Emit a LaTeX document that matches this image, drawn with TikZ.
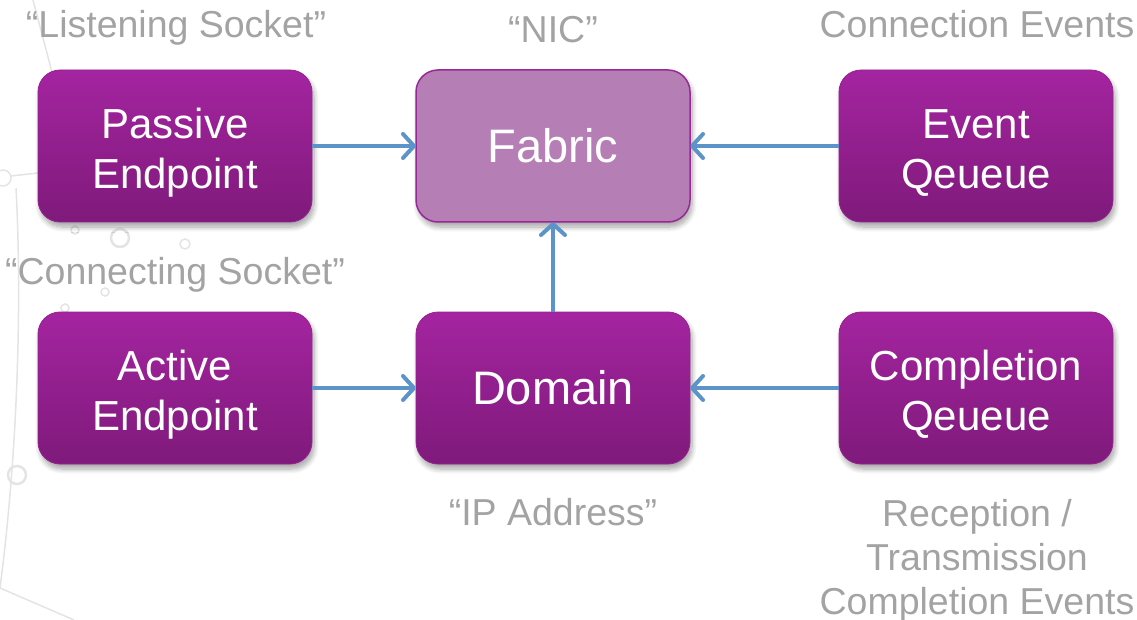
\documentclass[tikz,border=0pt]{standalone}
\usepackage{fontspec}
\setmainfont{Liberation Sans}
\usetikzlibrary{arrows.meta,shadows.blur}

\definecolor{boxtop}{RGB}{164,36,160}
\definecolor{boxbot}{RGB}{127,26,123}
\definecolor{boxedge}{RGB}{150,34,146}
\definecolor{fabfill}{RGB}{181,127,181}
\definecolor{fabedge}{RGB}{152,40,150}
\definecolor{linkblue}{RGB}{92,148,202}
\definecolor{notegray}{RGB}{163,163,163}
\definecolor{decogray}{RGB}{228,228,228}

% taller first line pushes two-line labels slightly down in their boxes
\newcommand{\firstline}{\rule{0pt}{43pt}}

\tikzset{
  objbox/.style={
    rectangle, rounded corners=22pt, minimum width=274pt, minimum height=152pt,
    inner sep=0pt, outer sep=0pt, align=center, text=white,
    top color=boxtop, bottom color=boxbot, draw=boxedge, line width=0.8pt,
    font=\fontsize{42}{50}\selectfont,
    blur shadow={shadow xshift=2pt, shadow yshift=-5pt, shadow blur steps=8,
                 shadow blur radius=5pt, shadow opacity=35}},
  corebox/.style={objbox, fill=fabfill, top color=fabfill, bottom color=fabfill,
    draw=fabedge, line width=1.5pt},
  bigtext/.style={font=\fontsize{47}{54}\selectfont},
  note/.style={text=notegray, font=\fontsize{37.5}{44}\selectfont, inner sep=0pt},
  link/.style={draw=linkblue, line width=4pt,
    -{Straight Barb[length=11pt, width=24pt, line cap=round, line join=round]}},
  deco/.style={draw=decogray, line width=1.5pt}
}

\begin{document}
\begin{tikzpicture}[x=1pt, y=-1pt]
  \useasboundingbox (0,0) rectangle (1137,620);

  % faint background ornament
  \draw[deco] (33,0) -- (58,95);
  \draw[deco] (3,178) circle (8);
  \draw[deco] (11,176) -- (38,173);
  \draw[deco] (16,188) .. controls (22,300) and (18,450) .. (0,588) -- (74,620);
  \foreach \cx/\cy/\r in {75/230/4, 185/244/5, 105/292/4, 65/308/4}
    \draw[deco] (\cx,\cy) circle (\r);
  \foreach \cx/\cy in {120/238, 17/475}{
    \draw[deco, line width=2.5pt] (\cx,\cy) circle (9);
  }

  % objects
  \node[objbox] (pep) at (175,146) {\firstline Passive\\Endpoint};
  \node[corebox, bigtext] (fab) at (553,146) {Fabric};
  \node[objbox] (eq)  at (976,146) {\firstline Event\\Qeueue};
  \node[objbox] (aep) at (175,388) {\firstline Active\\Endpoint};
  \node[objbox, bigtext] (dom) at (553,388) {Domain};
  \node[objbox] (cq)  at (976,388) {\firstline Completion\\Qeueue};

  % relations
  \draw[link] (pep.east) -- (fab.west);
  \draw[link] (eq.west) -- (fab.east);
  \draw[link] (dom.north) -- (fab.south);
  \draw[link] (aep.east) -- (dom.west);
  \draw[link] (cq.west) -- (dom.east);

  % annotations
  \node[note, anchor=base] (lsock) at (176,38) {“Listening Socket”};
  \node[note, anchor=base] (nic) at (553,43) {“NIC”};
  \node[note, anchor=base] (cev) at (977,38) {Connection Events};
  \node[note, anchor=base] (csock) at (175,284) {“Connecting Socket”};
  \node[note, anchor=base] (ipa) at (553,525) {“IP Address”};
  \node[note, anchor=north, align=center] (rtc) at (977,499)
    {Reception /\\Transmission\\Completion Events};
\end{tikzpicture}
\end{document}
